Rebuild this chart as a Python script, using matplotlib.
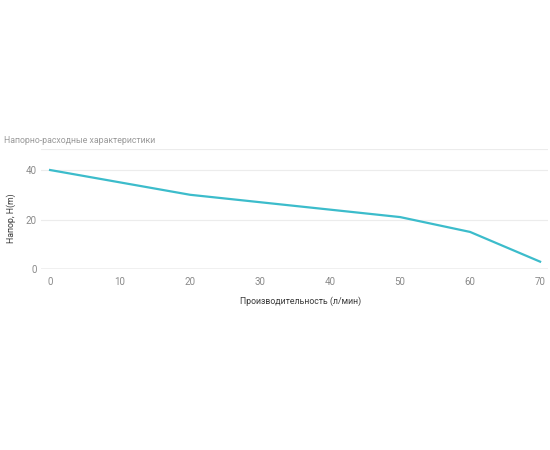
import matplotlib
matplotlib.use('Agg')
import matplotlib.pyplot as plt

# flow (l/min) vs head (m)
flow = [0, 10, 20, 30, 40, 50, 60, 70]
head = [40, 35, 30, 27, 24, 21, 15, 3]

xticks = [0, 10, 20, 30, 40, 50, 60, 70]
yticks = [0, 20, 40]

plt.rcParams['font.family'] = ['Roboto', 'DejaVu Sans']

fig = plt.figure(figsize=(5.5, 4.5), dpi=100)
ax = fig.add_axes([0.0745, 0.402, 0.9215, 0.267])

ax.plot(flow, head, color='#3cbccb', lw=1.6, solid_joinstyle='round')

ax.set_xlim(-1.3, 71.1)
ax.set_ylim(0, 48.5)
ax.set_xticks(xticks)
ax.set_yticks(yticks)
ax.tick_params(length=0, labelsize=7, colors='#8a8a8a', pad=6)
ax.tick_params(axis='y', pad=3)

for v in [20, 40, 48.5]:
    ax.axhline(v, color='#ececec', lw=0.8, zorder=0)
ax.axhline(0, color='#b4b4b4', lw=1.0, zorder=1)

for s in ax.spines.values():
    s.set_visible(False)

ax.set_xlabel('Производительность (л/мин)', fontsize=6.3, color='#3a3a3a')
ax.xaxis.set_label_coords(0.513, -0.23)
ax.set_ylabel('Напор, H(m)', fontsize=6.3, color='#3a3a3a')
ax.yaxis.set_label_coords(-0.05, 0.42)

fig.text(0.007, 0.682, 'Напорно-расходные характеристики', fontsize=6.3, color='#9a9a9a')

fig.savefig('out.png', dpi=100, facecolor='white')
